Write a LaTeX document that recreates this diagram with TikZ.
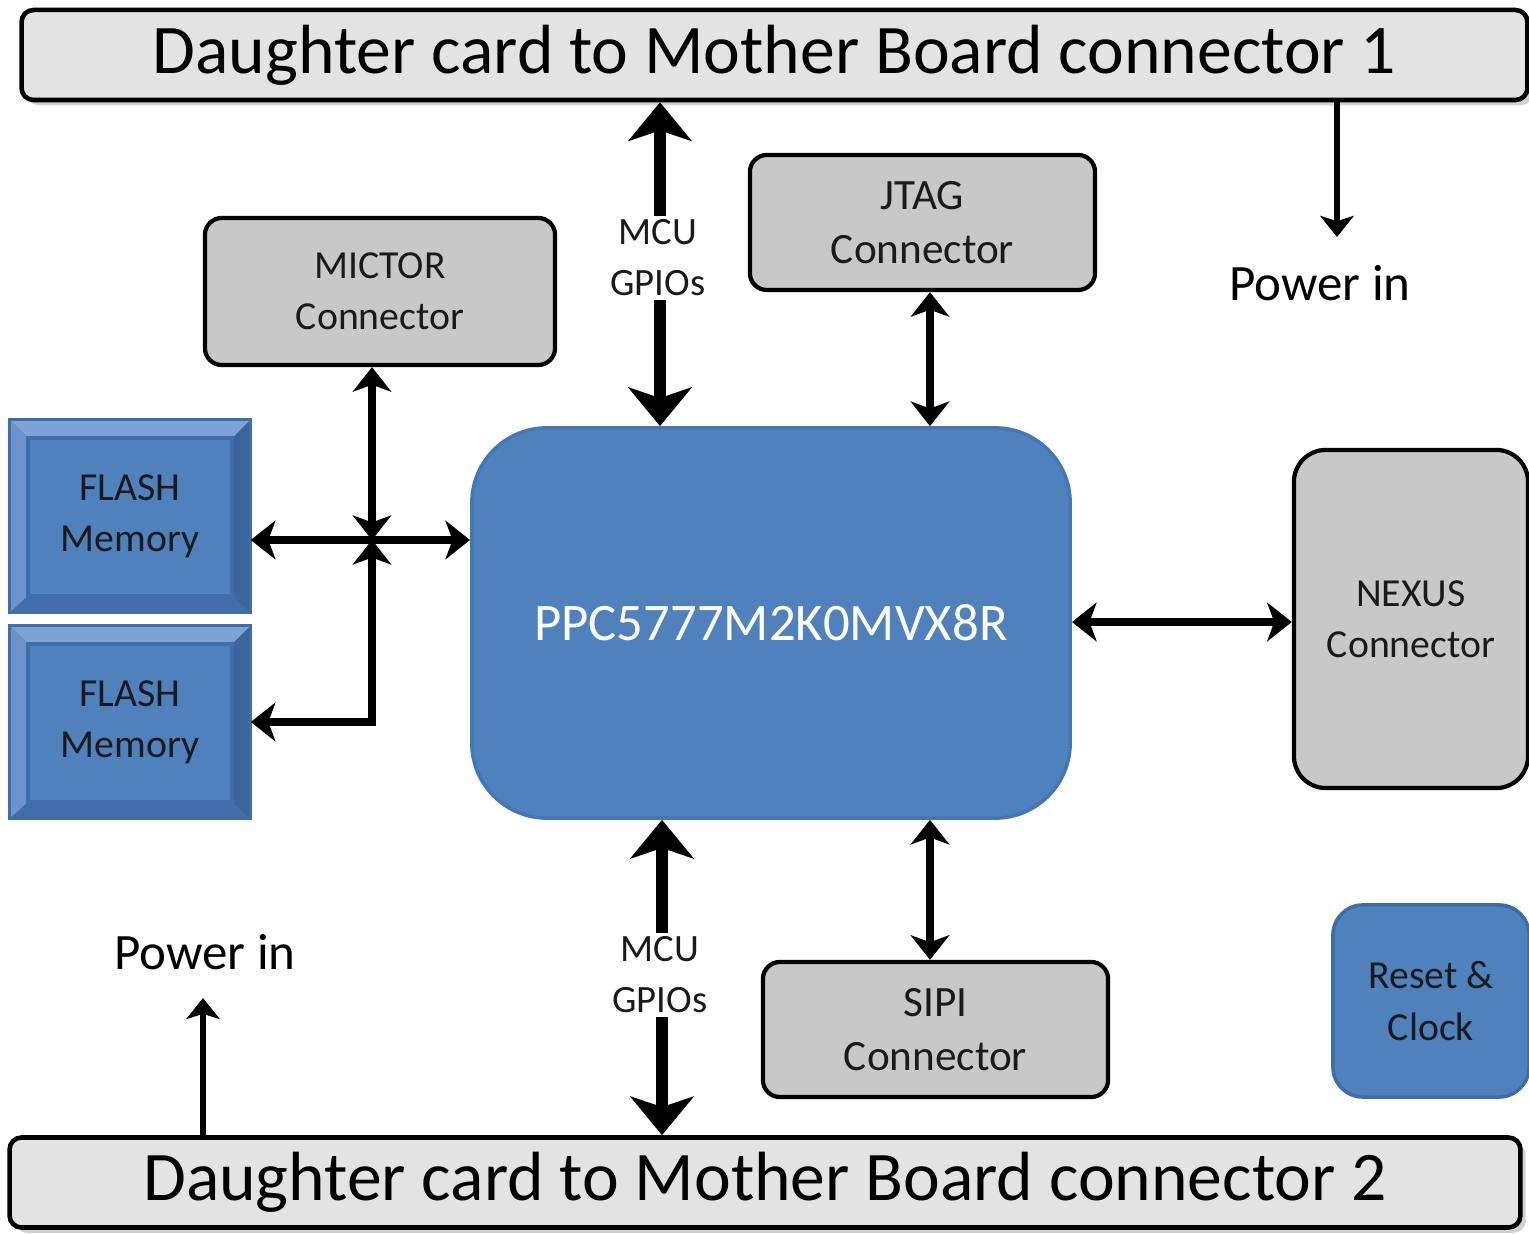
\documentclass[tikz,border=0pt]{standalone}
\usepackage{fontspec}
\setmainfont{Carlito}
\usetikzlibrary{arrows.meta,backgrounds,shadows}

\definecolor{chipblue}{HTML}{4F81BD}
\definecolor{chipedge}{HTML}{4577B5}
\definecolor{resetedge}{HTML}{3D6CA9}
\definecolor{boxgrey}{HTML}{C8C8C8}
\definecolor{bargrey}{HTML}{E3E3E3}
\definecolor{boxtext}{HTML}{1A1A1A}
\definecolor{bevtopc}{HTML}{7EA3D6}
\definecolor{bevleftc}{HTML}{6C93CB}
\definecolor{bevrightc}{HTML}{3A659F}
\definecolor{bevbotc}{HTML}{416DA9}
\definecolor{faceedge}{HTML}{3F6EA9}

\begin{document}
\begin{tikzpicture}[x=0.01cm,y=-0.01cm,
  bar/.style={draw=black,line width=1.3pt,fill=bargrey,rounded corners=0.12cm,
    drop shadow={opacity=0.35,shadow xshift=1.5pt,shadow yshift=-1.5pt},
    minimum height=0.9cm,inner sep=0pt,font=\fontsize{19.8}{24}\selectfont},
  greybox/.style={draw=black,line width=1.2pt,fill=boxgrey,rounded corners=0.17cm,
    align=center,text=boxtext,inner sep=0pt,font=\fontsize{12.3}{15.5}\selectfont},
  bluebox/.style={draw=resetedge,line width=1pt,fill=chipblue,rounded corners=0.3cm,
    align=center,text=boxtext,inner sep=0pt,font=\fontsize{11.3}{15}\selectfont},
  flashbox/.style={minimum width=2.4cm,minimum height=1.92cm,inner sep=0pt,
    align=center,text=boxtext,font=\fontsize{11.3}{14.5}\selectfont},
  lbl/.style={align=center,inner sep=1pt,fill=white,text=boxtext,
    font=\fontsize{11}{14.5}\selectfont},
  bus/.style={line width=3.4pt,>={Stealth[length=11pt,width=18pt,inset=3pt]}},
  link/.style={line width=2pt,>={Stealth[length=7pt,width=11pt,inset=2pt]}},
  pwr/.style={line width=1.7pt,>={Stealth[length=6pt,width=9.5pt,inset=1.5pt]}}
]
\useasboundingbox (0,0) rectangle (1529,1234);

\coordinate (cBar1)   at (774.5,55);
\coordinate (cBar2)   at (765,1182.5);
\coordinate (cMictor) at (380,291.5);
\coordinate (cJtag)   at (922.5,222.5);
\coordinate (cSipi)   at (935.5,1029.5);
\coordinate (cNexus)  at (1411,619);
\coordinate (cReset)  at (1431,1001);
\coordinate (cChip)   at (771,623);
\coordinate (cFlash1) at (130,516);
\coordinate (cFlash2) at (130,722);
\coordinate (jct)     at (372,540);
\coordinate (p1)      at (1337,237);
\coordinate (p2)      at (203,998);

\node[bar,minimum width=15.05cm] (Bar1) at (cBar1) {Daughter card to Mother Board connector 1};
\node[bar,minimum width=15.1cm]  (Bar2) at (cBar2) {Daughter card to Mother Board connector 2};
\node[greybox,minimum width=3.5cm,minimum height=1.47cm,font=\fontsize{11.3}{14.5}\selectfont] (Mictor) at (cMictor) {MICTOR\\Connector};
\node[greybox,minimum width=3.45cm,minimum height=1.35cm] (Jtag) at (cJtag) {JTAG\\Connector};
\node[greybox,minimum width=3.45cm,minimum height=1.35cm] (Sipi) at (cSipi) {SIPI\\Connector};
\node[greybox,minimum width=2.34cm,minimum height=3.38cm,rounded corners=0.32cm,font=\fontsize{11.3}{14.5}\selectfont] (Nexus) at (cNexus) {NEXUS\\Connector};
\node[bluebox,minimum width=1.96cm,minimum height=1.92cm] (Reset) at (cReset) {Reset \&\\Clock};
\node[draw=chipedge,line width=1pt,fill=chipblue,rounded corners=0.75cm,minimum width=5.98cm,minimum height=3.9cm,
      text=white,font=\fontsize{15}{18}\selectfont] (Chip) at (cChip) {PPC5777M2K0MVX8R};
\node[flashbox] (Flash1) at (cFlash1) {FLASH\\Memory};
\node[flashbox] (Flash2) at (cFlash2) {FLASH\\Memory};
\node[font=\fontsize{14.5}{17}\selectfont] (Pwr1) at (1320,283) {Power in};
\node[font=\fontsize{14.5}{17}\selectfont] (Pwr2) at (205,952) {Power in};

% beveled flash blocks
\begin{scope}[on background layer]
\fill[white] (0,0) rectangle (1529,1234);
\foreach \f in {Flash1,Flash2}{
  \fill[bevrightc] (\f.north west) rectangle (\f.south east);
  \fill[bevtopc] (\f.north west) -- (\f.north east) -- ([shift={(-19,19)}]\f.north east) -- ([shift={(19,19)}]\f.north west) -- cycle;
  \fill[bevbotc] (\f.south west) -- (\f.south east) -- ([shift={(-19,-17)}]\f.south east) -- ([shift={(19,-17)}]\f.south west) -- cycle;
  \fill[bevleftc] (\f.north west) -- ([shift={(19,19)}]\f.north west) -- ([shift={(19,-17)}]\f.south west) -- (\f.south west) -- cycle;
  \draw[faceedge,line width=0.8pt] (\f.north west) rectangle (\f.south east);
  \draw[faceedge,line width=1pt,fill=chipblue] ([shift={(19,19)}]\f.north west) rectangle ([shift={(-19,-17)}]\f.south east);
}
\end{scope}

% connections
\draw[bus,<->] (660,0 |- Bar1.south) -- (660,0 |- Chip.north);
\draw[bus,<->] (662,0 |- Chip.south) -- (662,0 |- Bar2.north);
\node[lbl] (Gpio1) at (658,258) {MCU\\GPIOs};
\node[lbl] (Gpio2) at (660,975) {MCU\\GPIOs};
\draw[link,<->] (930,0 |- Jtag.south) -- (930,0 |- Chip.north);
\draw[link,<->] (930,0 |- Chip.south) -- (930,0 |- Sipi.north);
\draw[link,<->] (Chip.east |- 0,622) -- (Nexus.west |- 0,622);
\draw[link,<->] (jct |- Mictor.south) -- (jct);
\draw[link,<->] (Flash1.east |- jct) -- (Chip.west |- jct);
\draw[link,<->] (jct) |- (Flash2.east);
\draw[pwr,->] (p1 |- Bar1.south) -- (p1);
\draw[pwr,->] (p2 |- Bar2.north) -- (p2);

\end{tikzpicture}
\end{document}
